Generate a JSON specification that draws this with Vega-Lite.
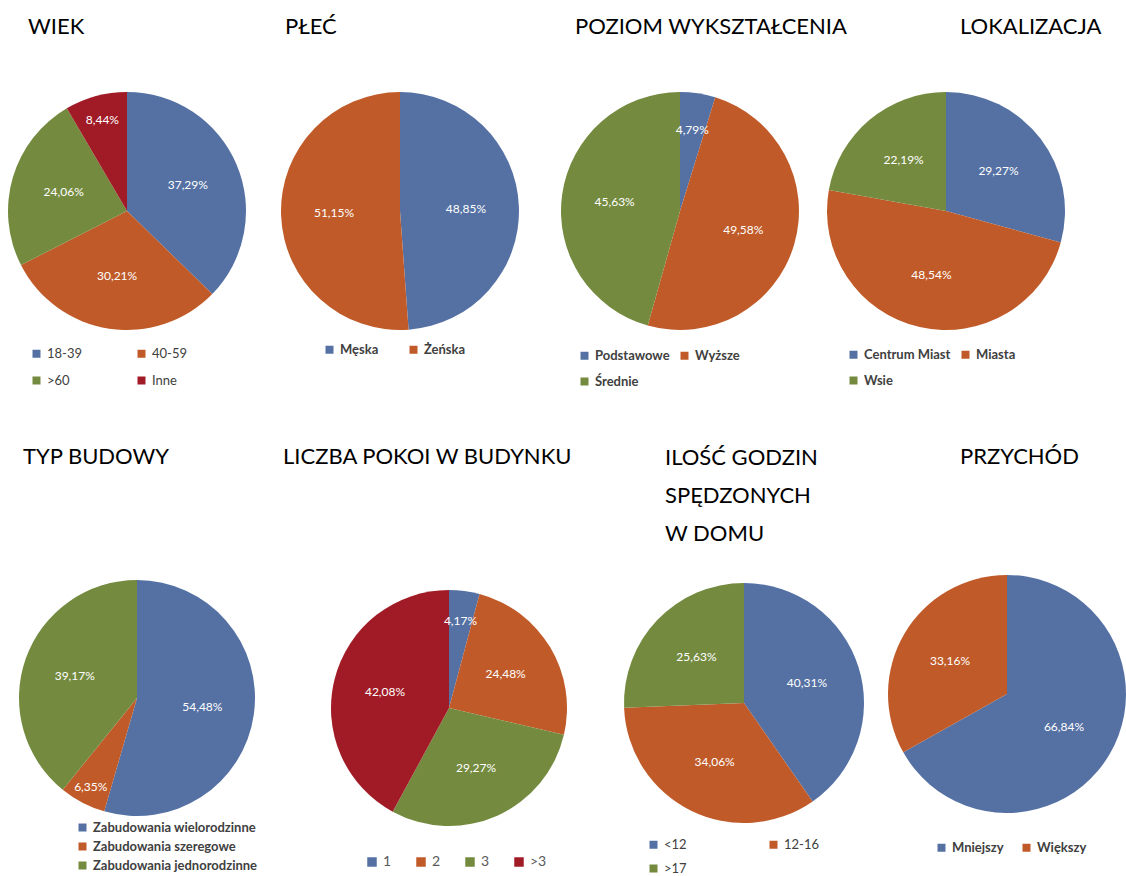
{
  "$schema": "https://vega.github.io/schema/vega-lite/v6.json",
  "background": "white",
  "padding": {"left": 5, "top": 16, "right": 0, "bottom": 0},
  "autosize": {"type": "pad"},
  "bounds": "flush",
  "spacing": 472,
  "resolve": {"scale": {"color": "independent", "theta": "independent"}, "legend": {"color": "independent"}},
  "vconcat": [
    {
      "bounds": "flush",
      "spacing": 10,
      "resolve": {"scale": {"color": "independent", "theta": "independent"}, "legend": {"color": "independent"}},
      "hconcat": [
        {
          "width": 244, "height": 244,
          "title": {"text": "WIEK", "dx": 23, "offset": 50},
          "data": {"values": [
            {"kat": "18-39", "p": 0.3729, "i": 1},
            {"kat": "40-59", "p": 0.3021, "i": 2},
            {"kat": ">60", "p": 0.2406, "i": 3},
            {"kat": "Inne", "p": 0.0844, "i": 4}
          ]},
          "encoding": {
            "theta": {"field": "p", "type": "quantitative", "stack": true},
            "order": {"field": "i", "type": "quantitative"}
          },
          "layer": [
            {"mark": {"type": "arc", "outerRadius": 119},
             "encoding": {"color": {"field": "kat", "type": "nominal",
               "scale": {"domain": ["18-39", "40-59", ">60", "Inne"], "range": ["#5571A4", "#C05B29", "#748B3F", "#A11B27"]},
               "legend": {"orient": "none", "legendX": 25, "legendY": 258, "direction": "horizontal", "columns": 2, "title": null, "columnPadding": 53, "rowPadding": 13, "labelFontWeight": "normal"}}}},
            {"mark": {"type": "text", "radius": {"expr": "datum.p < 0.09 ? 94 : 66"}, "fill": "white", "fontSize": 12},
             "encoding": {"text": {"field": "p", "type": "quantitative", "format": ".2%"}}}
          ]
        },
        {
          "width": 282, "height": 244,
          "title": {"text": "PŁEĆ", "dx": 26, "offset": 50},
          "data": {"values": [
            {"kat": "Męska", "p": 0.4885, "i": 1},
            {"kat": "Żeńska", "p": 0.5115, "i": 2}
          ]},
          "encoding": {
            "theta": {"field": "p", "type": "quantitative", "stack": true},
            "order": {"field": "i", "type": "quantitative"}
          },
          "layer": [
            {"mark": {"type": "arc", "outerRadius": 119},
             "encoding": {"color": {"field": "kat", "type": "nominal",
               "scale": {"domain": ["Męska", "Żeńska"], "range": ["#5571A4", "#C05B29"]},
               "legend": {"orient": "none", "legendX": 64, "legendY": 254, "direction": "horizontal", "columns": 2, "title": null, "columnPadding": 28, "labelFontWeight": "bold"}}}},
            {"mark": {"type": "text", "radius": {"expr": "datum.p < 0.09 ? 94 : 66"}, "fill": "white", "fontSize": 12},
             "encoding": {"text": {"field": "p", "type": "quantitative", "format": ".2%"}}}
          ]
        },
        {
          "width": 258, "height": 244,
          "title": {"text": "POZIOM WYKSZTAŁCENIA", "dx": 24, "offset": 50},
          "data": {"values": [
            {"kat": "Podstawowe", "p": 0.0479, "i": 1},
            {"kat": "Wyższe", "p": 0.4958, "i": 2},
            {"kat": "Średnie", "p": 0.4563, "i": 3}
          ]},
          "encoding": {
            "theta": {"field": "p", "type": "quantitative", "stack": true},
            "order": {"field": "i", "type": "quantitative"}
          },
          "layer": [
            {"mark": {"type": "arc", "outerRadius": 119},
             "encoding": {"color": {"field": "kat", "type": "nominal",
               "scale": {"domain": ["Podstawowe", "Wyższe", "Średnie"], "range": ["#5571A4", "#C05B29", "#748B3F"]},
               "legend": {"orient": "none", "legendX": 27, "legendY": 260, "direction": "horizontal", "columns": 2, "title": null, "columnPadding": 8, "rowPadding": 12, "labelFontWeight": "bold"}}}},
            {"mark": {"type": "text", "radius": {"expr": "datum.p < 0.09 ? 82 : 66"}, "fill": "white", "fontSize": 12},
             "encoding": {"text": {"field": "p", "type": "quantitative", "format": ".2%"}}}
          ]
        },
        {
          "width": 254, "height": 244,
          "title": {"text": "LOKALIZACJA", "dx": 141, "offset": 50},
          "data": {"values": [
            {"kat": "Centrum Miast", "p": 0.2927, "i": 1},
            {"kat": "Miasta", "p": 0.4854, "i": 2},
            {"kat": "Wsie", "p": 0.2219, "i": 3}
          ]},
          "encoding": {
            "theta": {"field": "p", "type": "quantitative", "stack": true},
            "order": {"field": "i", "type": "quantitative"}
          },
          "layer": [
            {"mark": {"type": "arc", "outerRadius": 119},
             "encoding": {"color": {"field": "kat", "type": "nominal",
               "scale": {"domain": ["Centrum Miast", "Miasta", "Wsie"], "range": ["#5571A4", "#C05B29", "#748B3F"]},
               "legend": {"orient": "none", "legendX": 28, "legendY": 259, "direction": "horizontal", "columns": 2, "title": null, "columnPadding": 8, "rowPadding": 12, "labelFontWeight": "bold"}}}},
            {"mark": {"type": "text", "radius": {"expr": "datum.p < 0.09 ? 94 : 66"}, "fill": "white", "fontSize": 12},
             "encoding": {"text": {"field": "p", "type": "quantitative", "format": ".2%"}}}
          ]
        }
      ]
    },
    {
      "bounds": "flush",
      "spacing": 29,
      "resolve": {"scale": {"color": "independent", "theta": "independent"}, "legend": {"color": "independent"}},
      "hconcat": [
        {
          "width": 264, "height": 274,
          "title": {"text": "TYP BUDOWY", "dx": 18, "offset": 92},
          "data": {"values": [
            {"kat": "Zabudowania wielorodzinne", "p": 0.5448, "i": 1},
            {"kat": "Zabudowania szeregowe", "p": 0.0635, "i": 2},
            {"kat": "Zabudowania jednorodzinne", "p": 0.3917, "i": 3}
          ]},
          "encoding": {
            "theta": {"field": "p", "type": "quantitative", "stack": true},
            "order": {"field": "i", "type": "quantitative"}
          },
          "layer": [
            {"mark": {"type": "arc", "outerRadius": 118},
             "encoding": {"color": {"field": "kat", "type": "nominal",
               "scale": {"domain": ["Zabudowania wielorodzinne", "Zabudowania szeregowe", "Zabudowania jednorodzinne"], "range": ["#5571A4", "#C05B29", "#748B3F"]},
               "legend": {"orient": "none", "legendX": 71, "legendY": 260, "direction": "vertical", "title": null, "rowPadding": 5, "labelFontWeight": "bold"}}}},
            {"mark": {"type": "text", "radius": {"expr": "datum.p < 0.09 ? 100 : 66"}, "fill": "white", "fontSize": 12},
             "encoding": {"text": {"field": "p", "type": "quantitative", "format": ".2%"}}}
          ]
        },
        {
          "width": 302, "height": 294,
          "title": {"text": "LICZBA POKOI W BUDYNKU", "dx": -15, "offset": 92},
          "data": {"values": [
            {"kat": "1", "p": 0.0417, "i": 1},
            {"kat": "2", "p": 0.2448, "i": 2},
            {"kat": "3", "p": 0.2927, "i": 3},
            {"kat": ">3", "p": 0.4208, "i": 4}
          ]},
          "encoding": {
            "theta": {"field": "p", "type": "quantitative", "stack": true},
            "order": {"field": "i", "type": "quantitative"}
          },
          "layer": [
            {"mark": {"type": "arc", "outerRadius": 118},
             "encoding": {"color": {"field": "kat", "type": "nominal",
               "scale": {"domain": ["1", "2", "3", ">3"], "range": ["#5571A4", "#C05B29", "#748B3F", "#A11B27"]},
               "legend": {"orient": "none", "legendX": 67, "legendY": 294, "direction": "horizontal", "title": null, "columnPadding": 22, "labelFontSize": 14, "labelColor": "#595959", "symbolSize": 90, "labelFontWeight": "normal"}}}},
            {"mark": {"type": "text", "radius": {"expr": "datum.p < 0.09 ? 88 : 66"}, "fill": "white", "fontSize": 12},
             "encoding": {"text": {"field": "p", "type": "quantitative", "format": ".2%"}}}
          ]
        },
        {
          "width": 230, "height": 284,
          "title": {"text": ["ILOŚĆ GODZIN", "SPĘDZONYCH", "W DOMU"], "dx": 41, "offset": 15, "lineHeight": 38},
          "data": {"values": [
            {"kat": "<12", "p": 0.4031, "i": 1},
            {"kat": "12-16", "p": 0.3406, "i": 2},
            {"kat": ">17", "p": 0.2563, "i": 3}
          ]},
          "encoding": {
            "theta": {"field": "p", "type": "quantitative", "stack": true},
            "order": {"field": "i", "type": "quantitative"}
          },
          "layer": [
            {"mark": {"type": "arc", "outerRadius": 120},
             "encoding": {"color": {"field": "kat", "type": "nominal",
               "scale": {"domain": ["<12", "12-16", ">17"], "range": ["#5571A4", "#C05B29", "#748B3F"]},
               "legend": {"orient": "none", "legendX": 18, "legendY": 277, "direction": "horizontal", "columns": 2, "title": null, "columnPadding": 80, "rowPadding": 10, "labelFontWeight": "normal"}}}},
            {"mark": {"type": "text", "radius": {"expr": "datum.p < 0.09 ? 94 : 66"}, "fill": "white", "fontSize": 12},
             "encoding": {"text": {"field": "p", "type": "quantitative", "format": ".2%"}}}
          ]
        },
        {
          "width": 238, "height": 266,
          "title": {"text": "PRZYCHÓD", "dx": 72, "offset": 92},
          "data": {"values": [
            {"kat": "Mniejszy", "p": 0.6684, "i": 1},
            {"kat": "Większy", "p": 0.3316, "i": 2}
          ]},
          "encoding": {
            "theta": {"field": "p", "type": "quantitative", "stack": true},
            "order": {"field": "i", "type": "quantitative"}
          },
          "layer": [
            {"mark": {"type": "arc", "outerRadius": 119},
             "encoding": {"color": {"field": "kat", "type": "nominal",
               "scale": {"domain": ["Mniejszy", "Większy"], "range": ["#5571A4", "#C05B29"]},
               "legend": {"orient": "none", "legendX": 47, "legendY": 280, "direction": "horizontal", "columns": 2, "title": null, "columnPadding": 16, "labelFontWeight": "bold"}}}},
            {"mark": {"type": "text", "radius": {"expr": "datum.p < 0.09 ? 94 : 66"}, "fill": "white", "fontSize": 12},
             "encoding": {"text": {"field": "p", "type": "quantitative", "format": ".2%"}}}
          ]
        }
      ]
    }
  ],
  "config": {
    "locale": {"number": {"decimal": ",", "thousands": " ", "grouping": [3], "currency": ["", " zł"]}},
    "view": {"stroke": null},
    "title": {"font": "Lato", "fontSize": 22, "fontWeight": "normal", "color": "#000000", "anchor": "start"},
    "legend": {"labelFont": "Lato", "labelFontSize": 13, "labelColor": "#404040", "symbolType": "square", "symbolSize": 64, "symbolStrokeWidth": 0, "labelOffset": 4, "labelLimit": 400},
    "text": {"font": "Lato"}
  }
}
